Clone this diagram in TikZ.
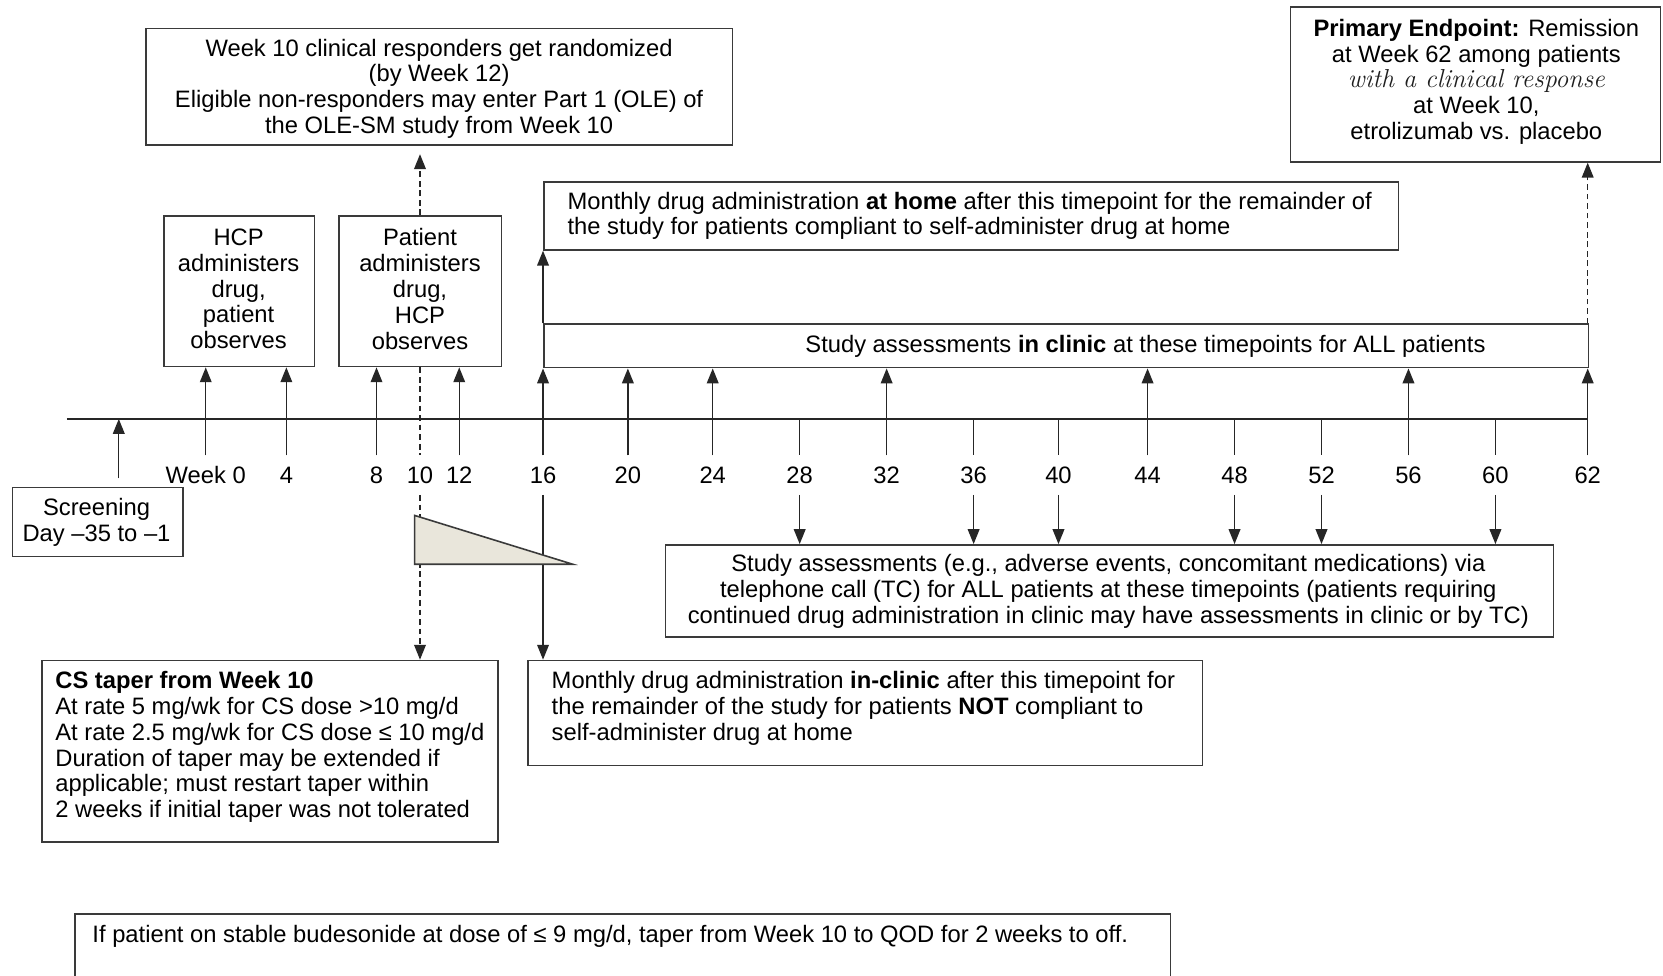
\documentclass[tikz,border=0pt]{standalone}
\usepackage{fontspec}
\setsansfont{Liberation Sans}
\usetikzlibrary{arrows.meta}
\definecolor{lncol}{HTML}{262626}
\definecolor{bxcol}{HTML}{3A3A3A}
\definecolor{tricol}{HTML}{E9E6DB}
\begin{document}
\begin{tikzpicture}[x=1pt,y=-1pt,
  font=\sffamily\fontsize{22.4}{24.3}\selectfont,
  boxst/.style={draw=bxcol, line width=1.4pt, fill=white, inner sep=0pt, rectangle, anchor=north west},
  txt/.style={inner sep=0pt, text=black},
  lnst/.style={draw=lncol, line width=1.3pt},
  arr/.style={lnst, -{Triangle[length=14pt,width=11pt]}},
  dsh/.style={dash pattern=on 5.5pt off 3.5pt},
  wk/.style={inner xsep=0pt, inner ysep=11pt, text height=15pt, text depth=0pt}]
\useasboundingbox (0,0) rectangle (1568,920);
\clip (0,0) rectangle (1568,920);
\fill[white] (0,0) rectangle (1568,920);

% boxes
\node[boxst, minimum width=553pt, minimum height=110pt] (resp) at (137,26) {};
\node[boxst, minimum width=142pt, minimum height=142pt] (hcp) at (154,203) {};
\node[boxst, minimum width=153pt, minimum height=142pt] (pat) at (319,203) {};
\node[boxst, minimum width=806pt, minimum height=64pt] (home) at (512,171) {};
\node[boxst, minimum width=985pt, minimum height=41pt] (clin) at (512,305) {};
\node[boxst, minimum width=349pt, minimum height=146pt] (prim) at (1216,6) {};
\node[boxst, minimum width=161pt, minimum height=65pt] (scr) at (11,459) {};
\node[boxst, minimum width=837pt, minimum height=87pt] (tel) at (627,513) {};
\node[boxst, minimum width=430pt, minimum height=171pt] (cs) at (39,622) {};
\node[boxst, minimum width=636pt, minimum height=99pt] (clinM) at (497,622) {};
\node[boxst, minimum width=1033pt, minimum height=90pt] (bud) at (70,861) {};

% texts
\node[txt, align=center] (respT) at (414,83.5) {Week 10 clinical responders get randomized\\(by Week 12)\\Eligible non-responders may enter Part 1 (OLE) of\\the OLE-SM study from Week 10};
\node[txt, align=center] (hcpT) at (225,272.5) {HCP\\administers\\drug,\\patient\\observes};
\node[txt, align=center] (patT) at (396,272.5) {Patient\\administers\\drug,\\HCP\\observes};
\node[txt, align=left, anchor=west] (homeT) at (535,203.5) {Monthly drug administration \textbf{at home} after this timepoint for the remainder of\\the study for patients compliant to self-administer drug at home};
\node[txt] (clinT) at (1080,326.5) {Study assessments \textbf{in clinic} at these timepoints for ALL patients};
\node[txt, align=center] (primT) at (1392,77) {\textbf{Primary Endpoint:} Remission\\at Week 62 among patients\\{\rmfamily\itshape\fontsize{24.5}{24.3}\selectfont\color{black!88}with a clinical response}\\at Week 10,\\etrolizumab vs. placebo};
\node[txt, align=center] (scrT) at (91,492.5) {Screening\\Day –35 to –1};
\node[txt, align=center] (telT) at (1045,557.5) {Study assessments (e.g., adverse events, concomitant medications) via\\telephone call (TC) for ALL patients at these timepoints (patients requiring\\continued drug administration in clinic may have assessments in clinic or by TC)};
\node[txt, align=left, anchor=west] (csT) at (52,704.5) {\textbf{CS taper from Week 10}\\At rate 5 mg/wk for CS dose >10 mg/d\\At rate 2.5 mg/wk for CS dose ≤ 10 mg/d\\Duration of taper may be extended if\\applicable; must restart taper within\\2 weeks if initial taper was not tolerated};
\node[txt, align=left, anchor=west] (clinMT) at (520,668) {Monthly drug administration \textbf{in-clinic} after this timepoint for\\the remainder of the study for patients \textbf{NOT} compliant to\\self-administer drug at home};
\node[txt, anchor=west] (budT) at (87,883) {If patient on stable budesonide at dose of ≤ 9 mg/d, taper from Week 10 to QOD for 2 weeks to off.};

% axis
\coordinate (axL) at (63,395);
\coordinate (axR) at (1497,395);
\draw[lnst] (axL) -- (axR);

% week labels
\foreach \x/\n/\t in {194/0/Week 0,270/4/4,355/8/8,396/10/10,433/12/12,512/16/16,592/20/20,672/24/24,754/28/28,836/32/32,918/36/36,998/40/40,1082/44/44,1164/48/48,1246/52/52,1328/56/56,1410/60/60,1497/62/62}
  \node[wk] (wk\n) at (\x,448) {\t};

% up arrows to boxes
\foreach \n in {0,4} \draw[arr] (wk\n.north) -- (wk\n.north |- hcp.south);
\foreach \n in {8,12} \draw[arr] (wk\n.north) -- (wk\n.north |- pat.south);
\foreach \n in {16,20,24,32,44,56,62} \draw[arr] (wk\n.north) -- (wk\n.north |- clin.south);

% ticks and down arrows to telephone box
\foreach \n in {28,36,40,48,52,60} {
  \draw[lnst] (wk\n.north |- axL) -- (wk\n.north);
  \draw[arr] (wk\n.south) -- (wk\n.south |- tel.north);
}

% week 16
\draw[arr] (clin.north -| wk16) -- (home.south -| wk16);
\draw[arr] (wk16.south) -- (wk16.south |- clinM.north);

% week 62 to primary endpoint
\draw[arr, dsh] (clin.north -| wk62) -- (prim.south -| wk62);

% week 10 dashed
\draw[lnst, dsh] (pat.south -| wk10) -- (wk10.north);
\draw[arr, dsh, shorten >=8pt] (pat.north -| wk10) -- (resp.south -| wk10);
\draw[arr, dsh] (wk10.south) -- (wk10.south |- cs.north);

% screening
\coordinate (scrA) at (112,451);
\draw[arr] (scrA) -- (scrA |- axL);

% taper triangle
\draw[fill=tricol, draw=bxcol, line width=1.5pt, line join=miter] (391,486) -- (391,532) -- (540,532) -- cycle;
\end{tikzpicture}
\end{document}
